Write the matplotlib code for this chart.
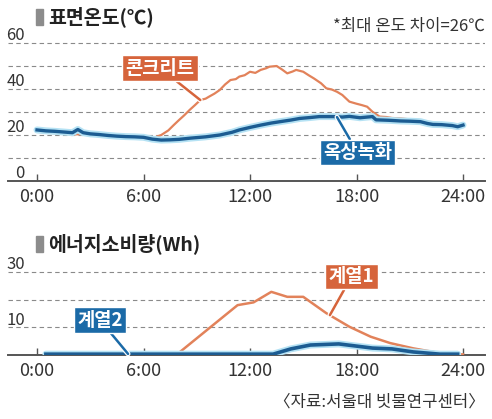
import matplotlib
matplotlib.use("Agg")
import matplotlib.pyplot as plt
import matplotlib.patheffects as pe
from matplotlib.patches import Rectangle

plt.rcParams['font.family'] = ['Noto Sans CJK KR', 'DejaVu Sans']

# 표면온도 (℃)
concrete_h = [0, 0.5, 1, 1.5, 2, 2.5, 3, 3.5, 4, 4.5, 5, 5.5, 6, 6.5, 7, 7.4, 7.7,
              8.0, 8.3, 8.6, 8.9, 9.2, 9.5, 9.7, 10.0, 10.3, 10.6, 10.9, 11.2, 11.4,
              11.7, 12.0, 12.3, 12.6, 12.9, 13.1, 13.5, 13.8, 14.1, 14.4, 14.6, 15.0,
              15.3, 15.6, 16.0, 16.3, 16.6, 16.9, 17.2, 17.6, 18.0, 18.3, 18.6, 18.9,
              19.3, 19.7, 20.0, 20.5, 21.0, 21.5, 22.0, 22.5, 23.0, 23.4, 24.0]
concrete_t = [21.5, 21.0, 20.8, 20.5, 20.2, 20.4, 19.8, 19.5, 19.2, 19.3, 18.9, 19.0,
              18.6, 18.6, 20.0, 22.0, 24.3, 26.5, 28.6, 30.9, 33.0, 35.2, 35.8, 36.7,
              38.0, 39.6, 42.0, 43.9, 44.3, 45.4, 46.0, 47.5, 47.0, 48.3, 49.0, 49.7,
              50.0, 48.5, 46.8, 47.6, 48.3, 47.5, 46.0, 44.6, 42.5, 40.3, 39.8, 38.8,
              37.4, 34.5, 33.6, 33.0, 32.3, 30.1, 28.0, 27.8, 27.4, 27.2, 26.8, 26.5,
              25.7, 25.0, 24.6, 24.2, 24.3]

roof_h = [0, 0.5, 1, 1.5, 2, 2.3, 2.6, 3, 3.5, 4, 4.5, 5, 5.5, 6, 6.5, 7, 7.5, 8,
          8.6, 9.5, 10.3, 11, 11.4, 12, 12.6, 13.2, 13.7, 14.3, 14.8, 15.4, 15.9,
          16.7, 17.2, 17.6, 18.2, 18.6, 18.9, 19.1, 19.8, 20.5, 21.0, 21.6, 22.0,
          22.3, 22.8, 23.4, 23.7, 24.0]
roof_t = [22.2, 21.8, 21.6, 21.3, 21.0, 22.4, 21.0, 20.5, 20.2, 19.8, 19.5, 19.3,
          19.2, 19.0, 18.2, 17.8, 17.9, 18.1, 18.6, 19.2, 20.0, 21.2, 22.2, 23.3,
          24.3, 25.2, 25.8, 26.5, 27.2, 27.6, 28.0, 28.0, 27.8, 28.1, 27.5, 27.8,
          28.0, 26.6, 26.4, 26.1, 26.0, 25.8, 25.0, 24.6, 24.5, 24.1, 23.6, 24.3]

# 에너지소비량 (Wh)
s1_h = [0.5, 7.9, 11.3, 12.2, 13.2, 14.1, 15.0, 16.3, 17.6, 18.8, 19.9, 21.2, 22.5, 23.5, 24.0]
s1_v = [0.3, 0.3, 18.0, 19.0, 22.8, 21.0, 21.0, 15.1, 10.2, 6.6, 4.3, 2.4, 0.9, 0.3, 0.2]
s2_h = [0.5, 13.3, 14.3, 15.4, 17.0, 18.9, 20.0, 21.2, 22.7, 23.7]
s2_v = [0.3, 0.3, 2.2, 3.6, 4.0, 2.5, 2.2, 1.1, 0.3, 0.3]

hours = [0, 6, 12, 18, 24]
hour_labels = ['0:00', '6:00', '12:00', '18:00', '24:00']

ORANGE_LINE = '#e2825a'
ORANGE_BOX = '#d6643b'
BLUE_LINE = '#1c5c92'
BLUE_BOX = '#1b6aa7'
GLOW = '#b5e2f4'
GRID = '#8a8a8a'
TEXT = '#333333'

W, H = 492, 419
fig = plt.figure(figsize=(W / 100, H / 100), dpi=100)
fig.patch.set_facecolor('white')

x0, px_per_h = 37, 17.75
xlim = ((8 - x0) / px_per_h, (485 - x0) / px_per_h)


def make_axes(bottom_px, top_val, px_per_unit):
    h_px = top_val * px_per_unit
    ax = fig.add_axes([8 / W, (H - bottom_px) / H, 477 / W, h_px / H])
    ax.set_xlim(*xlim)
    ax.set_ylim(0, top_val)
    for s in ('top', 'right', 'left'):
        ax.spines[s].set_visible(False)
    ax.spines['bottom'].set_color('#555555')
    ax.spines['bottom'].set_linewidth(1.4)
    ax.set_yticks([])
    ax.set_xticks(hours)
    ax.set_xticklabels(hour_labels, fontsize=13, color=TEXT)
    ax.tick_params(axis='x', direction='in', length=5, width=1, color='#555555', pad=5)
    ax.set_facecolor('none')
    return ax


def ylabels(ax, vals, labels):
    for v in vals:
        ax.axhline(v, color=GRID, lw=0.8, ls=(0, (4, 3)), zorder=1)
    for v, t in labels:
        ax.annotate(t, (-0.68, v), xytext=(0, 2), textcoords='offset points',
                    ha='right', va='baseline', fontsize=12, color=TEXT)


def callout(ax, text, xy, xytext, color):
    ax.annotate(text, xy=xy, xytext=xytext, ha='center', va='center',
                fontsize=13.5, fontweight='bold', color='white', zorder=6,
                bbox=dict(boxstyle='square,pad=0.18', fc=color, ec='white', lw=1),
                arrowprops=dict(arrowstyle='-', color=color, lw=1.8,
                                shrinkA=0, shrinkB=0,
                                path_effects=[pe.withStroke(linewidth=3.5, foreground='white')]))


def title(y_px, text):
    fig.patches.append(Rectangle((36 / W, 1 - (y_px + 8) / H), 7 / W, 16 / H,
                                 transform=fig.transFigure, color='#8c8c8c'))
    fig.text(48 / W, 1 - y_px / H, text, fontsize=14, fontweight='bold',
             color='#222222', va='center', ha='left')


# 표면온도
ax1 = make_axes(181, 62, 2.3)
ylabels(ax1, [10, 20, 30, 40, 50, 60], [(0, '0'), (20, '20'), (40, '40'), (60, '60')])
ax1.plot(concrete_h, concrete_t, color=ORANGE_LINE, lw=1.6, zorder=3)
ax1.plot(roof_h, roof_t, color=GLOW, lw=5, zorder=4, solid_capstyle='round')
ax1.plot(roof_h, roof_t, color=BLUE_LINE, lw=2.4, zorder=5)
callout(ax1, '콘크리트', (9.2, 35.2), (6.93, 49.1), ORANGE_BOX)
callout(ax1, '옥상녹화', (16.9, 27.8), (18.06, 12.4), BLUE_BOX)
title(17, '표면온도(℃)')
fig.text(485 / W, 1 - 27 / H, '*최대 온도 차이=26℃', fontsize=12,
         color=TEXT, ha='right', va='center')

# 에너지소비량
ax2 = make_axes(355, 31, 2.77)
ylabels(ax2, [10, 20, 30], [(10, '10'), (30, '30')])
ax2.plot(s1_h, s1_v, color=ORANGE_LINE, lw=1.8, zorder=3)
ax2.plot(s2_h, s2_v, color=GLOW, lw=5, zorder=4, solid_capstyle='round')
ax2.plot(s2_h, s2_v, color=BLUE_LINE, lw=2.6, zorder=5)
callout(ax2, '계열1', (16.5, 14.4), (17.72, 28.3), ORANGE_BOX)
callout(ax2, '계열2', (5.13, 0.4), (3.55, 12.6), BLUE_BOX)
title(244, '에너지소비량(Wh)')
fig.text(485 / W, 1 - 402 / H, '〈자료:서울대 빗물연구센터〉', fontsize=12,
         color=TEXT, ha='right', va='center')

fig.savefig('out.png', dpi=100)
